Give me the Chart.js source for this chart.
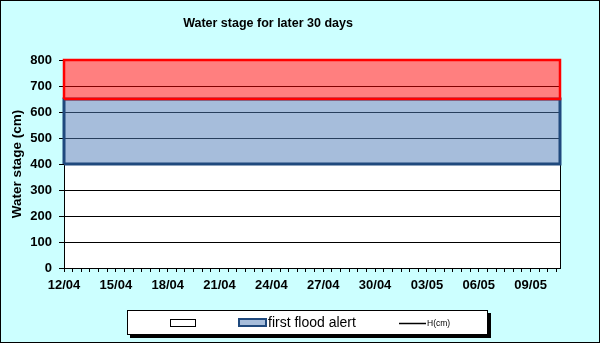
<!DOCTYPE html>
<html>
<head>
<meta charset="utf-8">
<title>Water stage</title>
<script src="https://cdn.jsdelivr.net/npm/chart.js@4.4.1/dist/chart.umd.min.js"></script>
<style>
    body{ margin:0; }
</style>
</head>
<body>
<canvas id="chart" width="600" height="343"></canvas>
<script>
// days counted from 12/04, one label every 3 days
const tickLabels = ['12/04','15/04','18/04','21/04','24/04','27/04','30/04','03/05','06/05','09/05'];
const daySpan = [0, 28.7];
// stage limits in cm: base, first flood alert, upper limit
const alertLevels = [400, 650, 800];
// H(cm) readings for the period
const waterStage = [];
const legendLabels = ['', 'first flood alert', 'H(cm)'];

const FONT = '"Liberation Sans", Arial, sans-serif';
const blueFill = 'rgba(77, 123, 183, 0.5)';
const blueLine = '#1F497D';
const redFill = 'rgba(255, 0, 0, 0.5)';
const redLine = '#FF0000';

// flat line across the whole period
const span = y => [ {x: daySpan[0], y: y}, {x: daySpan[1], y: y} ];
// closed rectangle round a band
const outline = (low, high) => [
    {x: daySpan[0], y: low}, {x: daySpan[0], y: high},
    {x: daySpan[1], y: high}, {x: daySpan[1], y: low},
    {x: daySpan[0], y: low}
];

// chart.js paints the first dataset last, so the list goes top layer first
const datasets = [
    {
        label: legendLabels[2],
        data: waterStage,
        fill: false,
        borderColor: '#000',
        borderWidth: 1.5
    },
    {
        data: outline(alertLevels[1], alertLevels[2]),
        fill: false,
        clip: false,
        borderColor: redLine,
        borderWidth: 2.5
    },
    {
        data: span(alertLevels[2]),
        fill: {value: alertLevels[1]},
        backgroundColor: redFill,
        borderWidth: 0
    },
    {
        data: outline(alertLevels[0], alertLevels[1]),
        fill: false,
        clip: false,
        borderColor: blueLine,
        borderWidth: 3
    },
    {
        label: legendLabels[1],
        data: span(alertLevels[1]),
        fill: {value: alertLevels[0]},
        backgroundColor: blueFill,
        borderWidth: 0
    },
    {
        label: legendLabels[0],
        data: span(alertLevels[0]),
        fill: 'origin',
        backgroundColor: 'rgba(255,255,255,0)',
        borderWidth: 0
    }
];

// cyan page, white plot area and the outer frame
const background = {
    id: 'background',
    beforeDraw(chart){
        const {ctx, chartArea: a} = chart;
        ctx.save();
        ctx.fillStyle = '#CCFFFF';
        ctx.fillRect(0, 0, chart.width, chart.height);
        ctx.fillStyle = '#fff';
        ctx.fillRect(a.left, a.top, a.right - a.left, a.bottom - a.top);
        ctx.restore();
    },
    afterDraw(chart){
        const ctx = chart.ctx;
        ctx.save();
        ctx.strokeStyle = '#000';
        ctx.lineWidth = 1;
        ctx.strokeRect(0.5, 0.5, chart.width - 1, chart.height - 1);
        ctx.restore();
    }
};

const titleText = {
    id: 'titleText',
    afterDraw(chart){
        const ctx = chart.ctx;
        ctx.save();
        ctx.font = `bold 12.5px ${FONT}`;
        ctx.fillStyle = '#000';
        ctx.textAlign = 'center';
        ctx.textBaseline = 'alphabetic';
        ctx.fillText('Water stage for later 30 days', 268, 26.5);
        ctx.restore();
    }
};

// boxed legend with drop shadow
const legendBox = {
    id: 'legendBox',
    afterDraw(chart){
        const ctx = chart.ctx;
        ctx.save();
        ctx.fillStyle = '#000';
        ctx.fillRect(130, 313, 361, 25);
        ctx.fillStyle = '#fff';
        ctx.fillRect(127, 310, 361, 25);
        ctx.strokeStyle = '#000';
        ctx.lineWidth = 1;
        ctx.strokeRect(127.5, 310.5, 360, 24);

        // base area swatch
        ctx.strokeRect(170.5, 319.5, 25, 7);

        // first flood alert swatch
        ctx.fillStyle = blueFill;
        ctx.fillRect(239, 319, 27, 7);
        ctx.strokeStyle = blueLine;
        ctx.lineWidth = 2;
        ctx.strokeRect(239, 319, 27, 7);

        ctx.fillStyle = '#000';
        ctx.textBaseline = 'middle';
        ctx.textAlign = 'left';
        ctx.font = `14px ${FONT}`;
        ctx.fillText(legendLabels[1], 268, 323);

        // H(cm) line
        ctx.strokeStyle = '#000';
        ctx.lineWidth = 1.5;
        ctx.beginPath();
        ctx.moveTo(399, 323.5);
        ctx.lineTo(426, 323.5);
        ctx.stroke();
        ctx.font = `8.5px ${FONT}`;
        ctx.fillText(legendLabels[2], 427, 323.5);
        ctx.restore();
    }
};

const chart = new Chart(document.getElementById('chart'), {
    type: 'line',
    data: { datasets: datasets },
    options: {
        responsive: false,
        animation: false,
        layout: { padding: { top: 60, right: 40, bottom: 0, left: 0 } },
        elements: {
            point: { radius: 0 },
            line: { tension: 0 }
        },
        plugins: {
            legend: { display: false },
            title: { display: false },
            tooltip: { enabled: false }
        },
        scales: {
            x: {
                type: 'linear',
                min: daySpan[0],
                max: daySpan[1],
                afterBuildTicks: axis => {
                    const ticks = [];
                    for (let v = daySpan[0]; v <= daySpan[1]; v += 0.5) ticks.push({value: v});
                    axis.ticks = ticks;
                },
                afterFit: axis => { axis.height = 75; },
                ticks: {
                    autoSkip: false,
                    maxRotation: 0,
                    minRotation: 0,
                    padding: 6,
                    color: '#000',
                    font: { family: FONT, size: 13, weight: 'bold' },
                    callback: value => value % 3 === 0 ? tickLabels[value / 3] : ''
                },
                grid: { drawOnChartArea: false, tickLength: 4, color: '#000', lineWidth: 1 },
                border: { color: '#000', width: 1 }
            },
            y: {
                min: 0,
                max: alertLevels[2],
                afterFit: axis => { axis.width = 64; },
                ticks: {
                    stepSize: 100,
                    padding: 7,
                    color: '#000',
                    font: { family: FONT, size: 13, weight: 'bold' }
                },
                grid: { color: '#000', lineWidth: 1, tickLength: 5 },
                border: { color: '#000', width: 1 },
                title: {
                    display: true,
                    text: 'Water stage (cm)',
                    color: '#000',
                    padding: { top: 9, bottom: 0 },
                    font: { family: FONT, size: 13.5, weight: 'bold' }
                }
            },
            y2: {
                display: true,
                position: 'right',
                min: 0,
                max: alertLevels[2],
                afterFit: axis => { axis.width = 0; },
                ticks: { display: false },
                grid: { drawOnChartArea: false, drawTicks: false },
                border: { color: '#000', width: 1 }
            }
        }
    },
    plugins: [background, titleText, legendBox]
});
</script>
</body>
</html>
